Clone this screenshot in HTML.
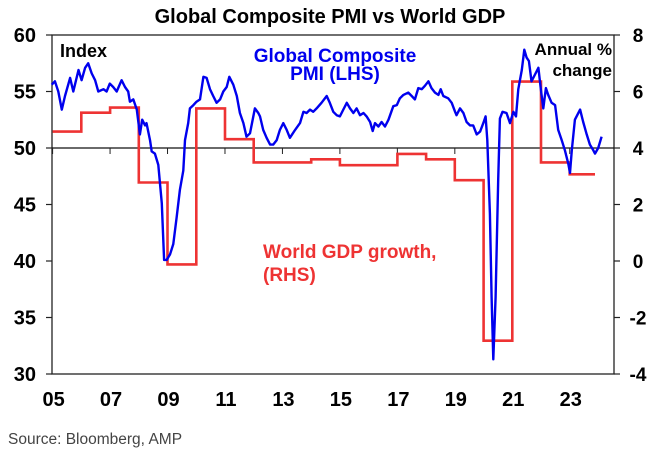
<!DOCTYPE html>
<html><head><meta charset="utf-8"><style>
body{margin:0;background:#fff;width:656px;height:452px;overflow:hidden;font-family:"Liberation Sans",sans-serif}
svg text{font-family:"Liberation Sans",sans-serif}
</style></head><body>
<svg id="c" width="656" height="452">
<text x="330" y="23" text-anchor="middle" font-size="20" font-weight="bold">Global Composite PMI vs World GDP</text>
<rect x="52" y="35" width="562" height="339" fill="none" stroke="#222" stroke-width="1.3"/>
<g id="axes"></g>
<g id="series"></g>
<text x="60" y="57" font-size="18" font-weight="bold">Index</text>
<text x="612" y="55" text-anchor="end" font-size="17" font-weight="bold">Annual %</text>
<text x="612" y="76" text-anchor="end" font-size="17" font-weight="bold">change</text>
<text x="335" y="62" text-anchor="middle" font-size="19" font-weight="bold" fill="#0000ee">Global Composite</text>
<text x="335" y="80" text-anchor="middle" font-size="19" font-weight="bold" fill="#0000ee">PMI (LHS)</text>
<text x="263" y="258" font-size="19" font-weight="bold" fill="#ee3333">World GDP growth,</text>
<text x="263" y="281" font-size="19" font-weight="bold" fill="#ee3333">(RHS)</text>
<text x="8" y="444" font-size="15.5" fill="#444">Source: Bloomberg, AMP</text>
</svg>
<script>
const pmiYears=[2004.97,2005.08,2005.20,2005.32,2005.43,2005.61,2005.72,2005.90,2006.01,2006.13,2006.24,2006.36,2006.48,2006.59,2006.77,2006.88,2006.99,2007.11,2007.23,2007.40,2007.52,2007.63,2007.69,2007.81,2007.93,2008.04,2008.12,2008.22,2008.27,2008.39,2008.45,2008.56,2008.68,2008.80,2008.88,2008.97,2009.09,2009.20,2009.32,2009.43,2009.55,2009.61,2009.72,2009.78,2009.90,2010.01,2010.13,2010.25,2010.36,2010.48,2010.59,2010.71,2010.83,2010.94,2011.06,2011.15,2011.29,2011.41,2011.52,2011.64,2011.75,2011.87,2012.04,2012.16,2012.22,2012.33,2012.45,2012.57,2012.68,2012.80,2012.91,2013.03,2013.15,2013.26,2013.44,2013.61,2013.73,2013.84,2013.96,2014.07,2014.19,2014.36,2014.54,2014.65,2014.77,2014.89,2015.00,2015.12,2015.24,2015.35,2015.47,2015.58,2015.70,2015.82,2015.93,2016.05,2016.14,2016.22,2016.34,2016.45,2016.57,2016.69,2016.86,2016.98,2017.09,2017.21,2017.38,2017.50,2017.61,2017.73,2017.85,2017.96,2018.08,2018.19,2018.31,2018.43,2018.51,2018.60,2018.77,2018.89,2019.01,2019.06,2019.18,2019.30,2019.41,2019.53,2019.64,2019.76,2019.88,2019.99,2020.07,2020.13,2020.22,2020.28,2020.34,2020.42,2020.51,2020.57,2020.66,2020.80,2020.92,2021.04,2021.13,2021.21,2021.33,2021.42,2021.50,2021.58,2021.67,2021.79,2021.91,2021.99,2022.08,2022.17,2022.25,2022.37,2022.49,2022.60,2022.72,2022.83,2022.95,2023.01,2023.07,2023.18,2023.36,2023.47,2023.59,2023.70,2023.82,2023.88,2023.99,2024.11];
const pmiValues=[55.6,55.9,55.0,53.4,54.6,56.2,55.0,56.9,56.0,57.1,57.5,56.6,56.0,55.0,55.2,55.0,55.7,55.4,55.0,56.0,55.4,55.0,54.1,54.3,53.4,51.2,52.5,52.0,52.2,50.7,49.7,49.5,48.5,45.1,40.1,40.1,40.6,41.5,43.9,46.3,48.0,50.7,52.2,53.5,53.8,54.1,54.3,56.3,56.2,55.2,54.6,54.0,54.3,55.0,55.4,56.3,55.6,54.6,53.1,52.2,51.0,51.3,53.5,53.1,52.8,51.6,50.9,50.3,50.3,50.7,51.6,52.2,51.6,50.9,51.6,52.2,53.2,53.1,53.4,53.2,53.5,54.0,54.6,54.0,53.2,52.9,52.8,53.4,54.0,53.5,53.1,53.5,52.9,53.1,52.8,52.3,51.5,52.2,51.9,52.3,51.9,52.5,53.7,53.8,54.4,54.7,54.9,54.6,54.3,55.3,55.2,55.5,55.9,55.3,54.9,54.7,55.2,54.6,54.4,54.0,53.2,52.9,53.5,53.1,52.3,52.0,52.0,51.2,51.45,52.2,52.8,50.7,44.2,36.8,31.3,36.8,47.2,52.6,53.2,53.1,52.2,53.2,52.8,55.2,56.9,58.7,58.0,57.7,55.9,56.5,57.1,55.3,53.5,55.3,54.7,54.0,53.8,51.6,50.7,49.8,48.6,47.8,49.8,52.5,53.4,52.3,51.2,50.3,49.8,49.5,50.0,51.0];
const gdpYears=[2005,2006,2007,2008,2009,2010,2011,2012,2013,2014,2015,2016,2017,2018,2019,2020,2021,2022,2023];
const gdpValues=[4.58,5.25,5.43,2.78,-0.12,5.4,4.31,3.49,3.49,3.60,3.39,3.39,3.79,3.60,2.86,-2.82,6.35,3.49,3.07];
const leftTicks=[30,35,40,45,50,55,60];
const rightTicks=[-4,-2,0,2,4,6,8];
const xTickLabels=['05','07','09','11','13','15','17','19','21','23'];
const xTickYears=[2005,2007,2009,2011,2013,2015,2017,2019,2021,2023];

const NS='http://www.w3.org/2000/svg';
const X=t=>52.6+(t-2005)*28.73;
const YL=v=>374-(v-30)*(339/30);
const YR=v=>374-(v+4)*(339/12);
function mk(tag,attrs,parent,text){const e=document.createElementNS(NS,tag);for(const k in attrs)e.setAttribute(k,attrs[k]);if(text!==undefined)e.textContent=text;parent.appendChild(e);return e;}
const ax=document.getElementById('axes'), se=document.getElementById('series');
leftTicks.forEach(v=>{
  const l=mk('line',{x1:46,x2:52,y1:YL(v),y2:YL(v),stroke:'#222','stroke-width':1.2},ax);
  
  
  const t=mk('text',{x:36,y:YL(v)+7,'text-anchor':'end','font-size':20,'font-weight':'bold'},ax,String(v));
  
  
});
rightTicks.forEach(v=>{
  const l=mk('line',{x1:614,x2:620,y1:YR(v),y2:YR(v),stroke:'#222','stroke-width':1.2},ax);
  
  
  const t=mk('text',{x:638,y:YR(v)+7,'text-anchor':'middle','font-size':19,'font-weight':'bold'},ax,String(v));
  
  
});
const zl=mk('line',{x1:52,x2:614,y1:YL(50),y2:YL(50),stroke:'#111','stroke-width':1.3},ax);


xTickYears.forEach((yr,i)=>{
  const l=mk('line',{x1:X(yr),x2:X(yr),y1:YL(50),y2:YL(50)+6,stroke:'#222','stroke-width':1},ax);
  
  
  const t=mk('text',{x:X(yr)+1,y:406,'text-anchor':'middle','font-size':20,'font-weight':'bold'},ax,xTickLabels[i]);
  
  
});
let d='';
gdpYears.forEach((yr,i)=>{
  const end=i===gdpYears.length-1?yr+0.88:yr+1;
  d+=(i===0?'M':'L')+X(yr).toFixed(1)+','+YR(gdpValues[i]).toFixed(1)+' L'+X(end).toFixed(1)+','+YR(gdpValues[i]).toFixed(1)+' ';
});
const g=mk('path',{d:d,fill:'none',stroke:'#ee3333','stroke-width':2.6,'stroke-linejoin':'miter'},se);


const pd=pmiYears.map((t,i)=>(i?'L':'M')+X(t).toFixed(1)+','+YL(pmiValues[i]).toFixed(1)).join(' ');
const p=mk('path',{d:pd,fill:'none',stroke:'#0000ee','stroke-width':2.4,'stroke-linejoin':'round'},se);


</script>
</body></html>
